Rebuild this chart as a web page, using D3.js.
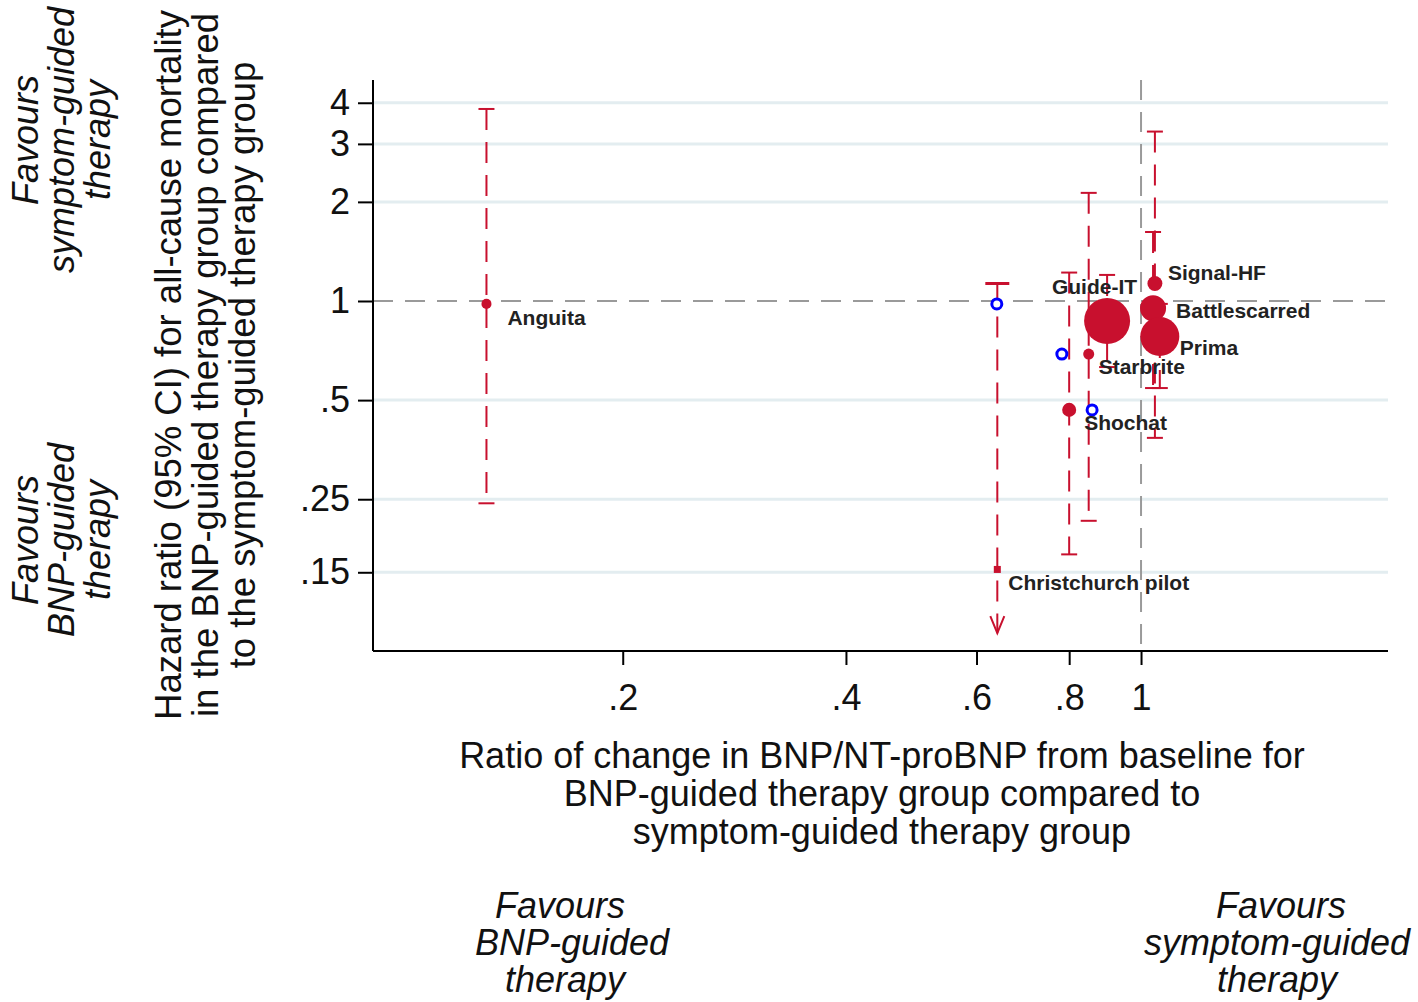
<!DOCTYPE html>
<html>
<head>
<meta charset="utf-8">
<script src="https://cdn.jsdelivr.net/npm/d3@7/dist/d3.min.js"></script>
<style>
  html, body { margin: 0; padding: 0; background: #fff; }
  svg { display: block; }
  text { font-family: "Liberation Sans", Arial, sans-serif; }
</style>
</head>
<body>
<svg id="chart" width="1418" height="1002"></svg>
<script>
// ---------------- data ----------------
const studies      = ["Anguita", "Christchurch pilot", "Guide-IT", "Signal-HF", "Battlescarred", "Prima", "Starbrite", "Shochat"];
const bnpRatio     = [0.131, 0.640, 0.900, 1.044, 1.038, 1.060, 0.850, 0.800];
const hazardRatio  = [0.98, 0.153, 0.87, 1.13, 0.95, 0.78, 0.69, 0.467];
const ciLower      = [0.243, 0.098, 0.63, 0.384, 0.544, 0.544, 0.215, 0.17];
const ciUpper      = [3.83, 1.13, 1.20, 3.27, 1.62, 0.98, 2.13, 1.22];
const truncatedLow = [false, true, false, false, false, false, false, false];
const studyWeight  = [23, 12, 484, 51, 155, 348, 28, 45];

const altRatio     = [0.639, 0.782, 0.859];
const altHazard    = [0.98, 0.69, 0.467];

const xTicks = [0.2, 0.4, 0.6, 0.8, 1];
const xTickLabels = [".2", ".4", ".6", ".8", "1"];
const yTicks = [4, 3, 2, 1, 0.5, 0.25, 0.15];
const yTickLabels = ["4", "3", "2", "1", ".5", ".25", ".15"];

const xTitle = ["Ratio of change in BNP/NT-proBNP from baseline for", "BNP-guided therapy group compared to", "symptom-guided therapy group"];
const yTitle = ["Hazard ratio (95% CI) for all-cause mortality", "in the BNP-guided therapy group compared", "to the symptom-guided therapy group"];
const favBnp = ["Favours", "BNP-guided", "therapy"];
const favSym = ["Favours", "symptom-guided", "therapy"];

// ---------------- layout ----------------
const svg = d3.select("#chart");
const plot = { left: 373, right: 1388, top: 80, bottom: 651 };
const RED = "#c8102e";
const BLUE = "#0000ff";

const x = d3.scaleLog().domain([0.0921, 2.153]).range([plot.left, plot.right]);
const y = d3.scaleLog().domain([0.0865, 4.69]).range([plot.bottom, plot.top]);
const r = d3.scaleSqrt().domain([0, 484]).range([0, 23]);

// label offsets relative to marker
const labelOffset = {
  "Anguita": [21, 14, "start"],
  "Christchurch pilot": [11, 13, "start"],
  "Guide-IT": [30, -34, "end"],
  "Signal-HF": [13, -11, "start"],
  "Battlescarred": [23, 2, "start"],
  "Prima": [20, 11, "start"],
  "Starbrite": [10, 13, "start"],
  "Shochat": [15, 13, "start"]
};

// gridlines
svg.append("g").selectAll("line")
  .data(yTicks.filter(v => v !== 1))
  .join("line")
  .attr("x1", plot.left).attr("x2", plot.right)
  .attr("y1", d => y(d)).attr("y2", d => y(d))
  .attr("stroke", "#e3edf0").attr("stroke-width", 3);

// reference lines
svg.append("line")
  .attr("x1", plot.left).attr("x2", plot.right)
  .attr("y1", y(1)).attr("y2", y(1))
  .attr("stroke", "#9a9a9a").attr("stroke-width", 2)
  .attr("stroke-dasharray", "20 12");
svg.append("line")
  .attr("x1", x(1)).attr("x2", x(1))
  .attr("y1", plot.top).attr("y2", plot.bottom)
  .attr("stroke", "#9a9a9a").attr("stroke-width", 2)
  .attr("stroke-dasharray", "20 12");

// error bars
const rows = studies.map((s, i) => ({
  name: s, bx: bnpRatio[i], hr: hazardRatio[i], lo: ciLower[i], hi: ciUpper[i],
  trunc: truncatedLow[i], w: studyWeight[i]
}));

const eb = svg.append("g");
rows.forEach(d => {
  const cx = x(d.bx);
  eb.append("line")
    .attr("x1", cx).attr("x2", cx)
    .attr("y1", y(d.hi)).attr("y2", y(d.lo))
    .attr("stroke", RED).attr("stroke-width", 2)
    .attr("stroke-dasharray", "21 12");
  const capW = d.trunc ? 12 : 8;
  eb.append("line")
    .attr("x1", cx - capW).attr("x2", cx + capW)
    .attr("y1", y(d.hi)).attr("y2", y(d.hi))
    .attr("stroke", RED).attr("stroke-width", d.trunc ? 3 : 2);
  if (d.trunc) {
    const ty = y(d.lo);
    eb.append("path")
      .attr("d", `M${cx - 7},${ty - 17} L${cx},${ty} L${cx + 7},${ty - 17}`)
      .attr("fill", "none").attr("stroke", RED).attr("stroke-width", 2);
  } else {
    eb.append("line")
      .attr("x1", cx - 8).attr("x2", cx + 8)
      .attr("y1", y(d.lo)).attr("y2", y(d.lo))
      .attr("stroke", RED).attr("stroke-width", 2);
  }
});

// markers
svg.append("g").selectAll("path")
  .data(rows)
  .join("path")
  .attr("transform", d => `translate(${x(d.bx)},${y(d.hr)})`)
  .attr("d", d => d.trunc
      ? d3.symbol(d3.symbolSquare, 49)()
      : d3.symbol(d3.symbolCircle, Math.PI * r(d.w) ** 2)())
  .attr("fill", RED);

// alternative (hollow blue) points
svg.append("g").selectAll("circle")
  .data(altRatio.map((v, i) => ({ bx: v, hr: altHazard[i] })))
  .join("circle")
  .attr("cx", d => x(d.bx)).attr("cy", d => y(d.hr))
  .attr("r", 5)
  .attr("fill", "#fff").attr("stroke", BLUE).attr("stroke-width", 3);

// labels
svg.append("g").selectAll("text")
  .data(rows)
  .join("text")
  .attr("x", d => x(d.bx) + labelOffset[d.name][0])
  .attr("y", d => y(d.hr) + labelOffset[d.name][1])
  .attr("dy", "0.35em")
  .attr("text-anchor", d => labelOffset[d.name][2])
  .attr("font-size", 21).attr("font-weight", "bold")
  .attr("fill", "#222")
  .text(d => d.name);

// axes
const xAxis = d3.axisBottom(x).tickValues(xTicks)
  .tickFormat((d, i) => xTickLabels[i]).tickSize(14).tickPadding(19);
const gx = svg.append("g").attr("transform", `translate(0,${plot.bottom})`).call(xAxis);
gx.select(".domain").attr("d", `M${plot.left},0H${plot.right}`).attr("stroke", "#000").attr("stroke-width", 2);
gx.selectAll(".tick line").attr("stroke", "#000").attr("stroke-width", 2);
gx.selectAll(".tick text").attr("font-size", 36).attr("fill", "#111")
  .attr("font-family", "Liberation Sans, Arial, sans-serif");

const yAxis = d3.axisLeft(y).tickValues(yTicks)
  .tickFormat((d, i) => yTickLabels[i]).tickSize(15).tickPadding(8);
const gy = svg.append("g").attr("transform", `translate(${plot.left},0)`).call(yAxis);
gy.select(".domain").attr("d", `M0,${plot.top}V${plot.bottom}`).attr("stroke", "#000").attr("stroke-width", 2);
gy.selectAll(".tick line").attr("stroke", "#000").attr("stroke-width", 2);
gy.selectAll(".tick text").attr("font-size", 36).attr("fill", "#111")
  .attr("font-family", "Liberation Sans, Arial, sans-serif");

// x title
svg.append("g").selectAll("text").data(xTitle).join("text")
  .attr("x", 882).attr("y", (d, i) => 768 + i * 38)
  .attr("text-anchor", "middle").attr("font-size", 36).attr("fill", "#111")
  .text(d => d);

// y title (rotated)
svg.append("g").selectAll("text").data(yTitle).join("text")
  .attr("transform", (d, i) => `translate(${181 + i * 37},365) rotate(-90)`)
  .attr("text-anchor", "middle").attr("font-size", 36.5).attr("fill", "#111")
  .text(d => d);

// favours blocks (left rotated)
function rotBlock(lines, cx0, cy) {
  svg.append("g").selectAll("text").data(lines).join("text")
    .attr("transform", (d, i) => `translate(${cx0 + i * 36},${cy}) rotate(-90)`)
    .attr("text-anchor", "middle").attr("font-size", 36).attr("font-style", "italic")
    .attr("fill", "#111").text(d => d);
}
rotBlock(favSym, 38, 140);
rotBlock(favBnp, 38, 540);

function horBlock(lines, cx, y0, shifts) {
  svg.append("g").selectAll("text").data(lines).join("text")
    .attr("x", (d, i) => cx + shifts[i]).attr("y", (d, i) => y0 + i * 37)
    .attr("text-anchor", "middle").attr("font-size", 36).attr("font-style", "italic")
    .attr("fill", "#111").text(d => d);
}
horBlock(favBnp, 566, 918, [-6, 6, -1]);
horBlock(favSym, 1279, 918, [2, -2, -2]);
</script>
</body>
</html>
